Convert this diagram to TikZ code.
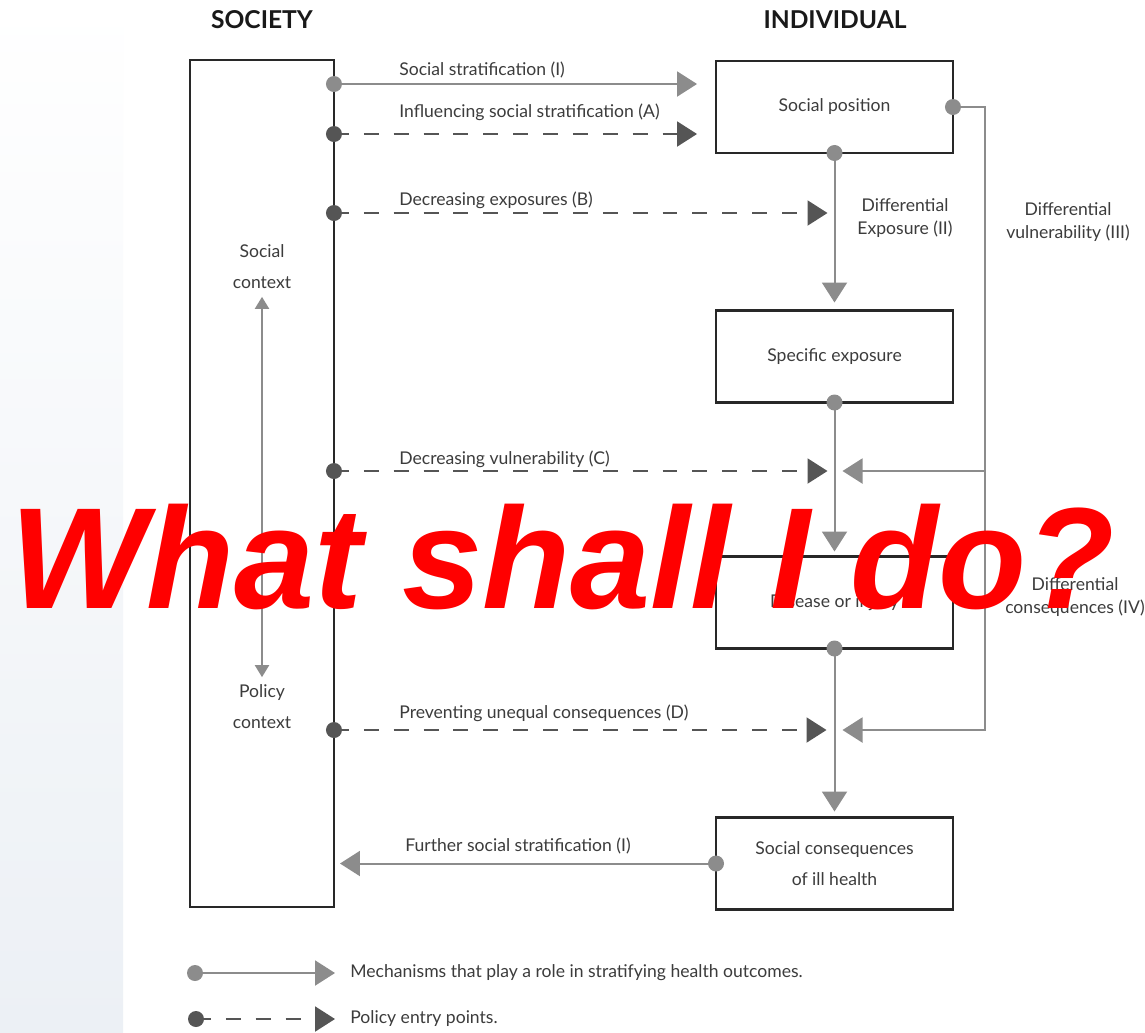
\documentclass[tikz,border=0pt]{standalone}
\usepackage{fontspec}
\setmainfont{Lato}
\newfontfamily\alertfont{Liberation Sans}
\usetikzlibrary{arrows.meta,positioning}
\definecolor{mechgray}{RGB}{140,140,140}
\definecolor{entrygray}{RGB}{85,85,85}
\definecolor{boxline}{RGB}{40,40,40}
\definecolor{textgray}{RGB}{60,60,60}
\definecolor{panelblue}{RGB}{236,240,245}
\newcommand\lblsize{\fontsize{10}{13}\selectfont}
\newcommand\widesize{\fontsize{10}{17.6}\selectfont}
\begin{document}
\begin{tikzpicture}[x=0.02cm,y=-0.02cm,
  box/.style = {rectangle,draw=boxline,line width=1.5pt,outer sep=0pt,minimum width=4.74cm,minimum height=1.84cm,align=center,text=textgray,font=\lblsize},
  bigbox/.style = {box,minimum width=2.88cm,minimum height=16.94cm},
  title/.style = {font=\fontsize{14}{16}\selectfont\bfseries,text=black!90},
  lbl/.style = {text=textgray,font=\lblsize,inner sep=0pt,align=center},
  mech/.style = {draw=mechgray,line width=1.15pt,-{Triangle[length=0.4cm,width=0.5cm,fill=mechgray]}},
  entry/.style = {draw=entrygray,line width=1.15pt,dash pattern=on 8.5pt off 8.5pt,-{Triangle[length=0.4cm,width=0.5cm,fill=entrygray]}}]
% background
\fill[white] (0,0) rectangle (1145,1032);
\shade[top color=white,bottom color=panelblue] (0,0) rectangle (123,1032);
\useasboundingbox (0,0) rectangle (1145,1032);
% society side
\node[bigbox] (society) at (262,483.5) {};
\node[title] (societyttl) at (262,20) {SOCIETY};
\node[lbl,font=\widesize] (socctx) at (262,267) {Social\\context};
\node[lbl,font=\widesize] (polctx) at (262,707) {Policy\\context};
\draw[mech,{Triangle[length=0.24cm,width=0.28cm,fill=mechgray]}-{Triangle[length=0.24cm,width=0.28cm,fill=mechgray]},shorten <=0.15cm,shorten >=0.15cm] (socctx.south) -- (polctx.north);
% individual side
\node[title] (individualttl) at (835,20) {INDIVIDUAL};
\node[box] (position) at (834.5,107) {Social position};
\node[box] (exposure) at (834.5,356.5) {Specific exposure};
\node[box] (disease) at (834.5,602.5) {Disease or injury};
\node[box,font=\widesize] (consequence) at (834.5,863.5) {Social consequences\\of ill health};
% entry points on the society box
\foreach \y/\name in {84/strat,134/influence,213/exposures,471/vulner,730/prevent}
    \coordinate (\name) at (society.east |- 0,\y);
\coordinate (loopx) at (985,0);
% connectors
\draw[mech,shorten >=0.38cm] (strat) -- (strat -| position.west);
\draw[entry,shorten >=0.38cm] (influence) -- (influence -| position.west);
\draw[entry,shorten >=0.14cm] (exposures) -- (exposures -| position.south);
\draw[entry,shorten >=0.14cm] (vulner) -- (vulner -| exposure.south);
\draw[entry,shorten >=0.16cm] (prevent) -- (prevent -| disease.south);
\draw[mech,shorten >=0.16cm] (position.south) -- (exposure.north);
\draw[mech,shorten >=0.1cm] (exposure.south) -- (disease.north);
\draw[mech,shorten >=0.12cm] (disease.south) -- (consequence.north);
\draw[mech,shorten >=0.16cm] (position.east) -- (loopx |- position.east) -- (loopx |- prevent) -- (prevent -| disease.south);
\draw[mech,shorten >=0.16cm] (loopx |- vulner) -- (vulner -| disease.south);
\draw[mech,shorten >=0.12cm] (consequence.west) -- (consequence.west -| society.east);
\foreach \p in {strat,position.south,position.east,exposure.south,disease.south,consequence.west}
    \fill[mechgray] (\p) circle (0.16cm);
\foreach \p in {influence,exposures,vulner,prevent}
    \fill[entrygray] (\p) circle (0.16cm);
% labels
\node[lbl,anchor=base west] (stratlbl) at (399,75) {Social stratification (I)};
\node[lbl,anchor=base west] (influencelbl) at (399,117) {Influencing social stratification (A)};
\node[lbl,anchor=base west] (exposureslbl) at (399,205) {Decreasing exposures (B)};
\node[lbl,anchor=base west] (vulnerlbl) at (399,464) {Decreasing vulnerability (C)};
\node[lbl,anchor=base west] (preventlbl) at (399,718) {Preventing unequal consequences (D)};
\node[lbl,anchor=base west] (furtherlbl) at (405,851) {Further social stratification (I)};
\node[lbl] (diffexp) at (905,218) {Differential\\Exposure (II)};
\node[lbl] (diffvul) at (1068,222) {Differential\\vulnerability (III)};
\node[lbl] (diffcon) at (1075,597) {Differential\\consequences (IV)};
% legend
\coordinate (legmech) at (195,973);
\coordinate (legentry) at (196,1019);
\node[lbl,anchor=west] (legmechtxt) at (350,973) {Mechanisms that play a role in stratifying health outcomes.};
\node[lbl,anchor=west] (legentrytxt) at (350,1019) {Policy entry points.};
\draw[mech,shorten >=0.3cm] (legmech) -- (legmech -| legmechtxt.west);
\draw[entry,shorten >=0.3cm] (legentry) -- (legentry -| legentrytxt.west);
\fill[mechgray] (legmech) circle (0.16cm);
\fill[entrygray] (legentry) circle (0.16cm);
% overlay
\node[anchor=base west,inner sep=0pt,text=red,font=\alertfont\bfseries\itshape\fontsize{82}{90}\selectfont] (question) at (10,608) {What shall I do?};
\end{tikzpicture}
\end{document}
